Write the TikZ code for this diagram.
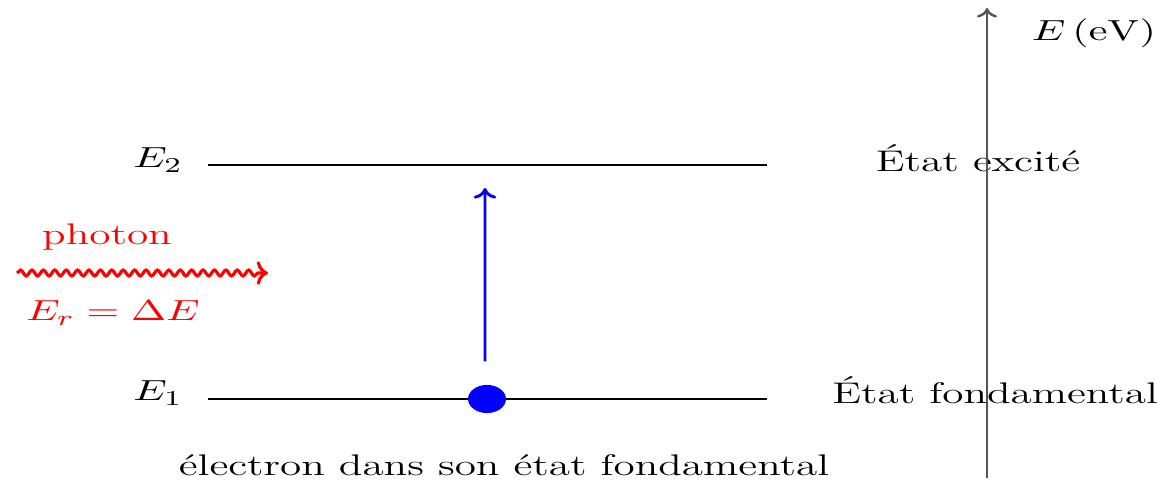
\documentclass[tikz,border=0pt]{standalone}
\usepackage{tikz}
\usetikzlibrary{arrows.meta,decorations.pathmorphing,shapes.geometric}
\definecolor{PhRed}{HTML}{FF0000}
\definecolor{PhBlue}{HTML}{0000FF}
\definecolor{PhAxis}{HTML}{555555}
\tikzset{
  level/.style={black,line width=1pt},
  absorb/.style={->,PhBlue,line width=1.1pt},
  photonwave/.style={->,PhRed,line width=1.2pt,decorate,
                     decoration={snake,amplitude=1.1pt,segment length=4.3pt,post length=2.5pt}},
  axisline/.style={->,PhAxis,line width=0.9pt},
  wide/.style={xscale=1.45,inner sep=0pt,font=\fontsize{11.25}{13}\selectfont},
  redlabel/.style={wide,text=PhRed},
  electron/.style={ellipse,fill=PhBlue,minimum width=14.3pt,minimum height=10.6pt,inner sep=0pt},
}
\begin{document}
\begin{tikzpicture}[x=0.377pt,y=-0.377pt]
  \path[use as bounding box] (0,0) rectangle (1162,481);

  % niveaux d'energie
  \coordinate (E2a) at (208,165);
  \coordinate (E2b) at (767,165);
  \coordinate (E1a) at (208,399);
  \coordinate (E1b) at (767,399);
  \draw[level] (E2a) -- (E2b);
  \draw[level] (E1a) -- (E1b);
  \node[wide] (lE2) at (158,160) {$E_2$};
  \node[wide] (lE1) at (158,393) {$E_1$};
  \node[wide] (exc) at (978,158) {\'Etat excit\'e};
  \node[wide] (fond) at (995,390) {\'Etat fondamental};

  % electron et absorption
  \node[electron] (el) at (487,399) {};
  \coordinate (up) at (485,188);
  \draw[absorb] ([xshift=-0.75pt,yshift=8.7pt]el.north) -- (up);
  \node[wide] (elec) at (504,465) {\'electron dans son \'etat fondamental};

  % photon incident
  \coordinate (ph0) at (17,273);
  \coordinate (ph1) at (268,273);
  \draw[photonwave] (ph0) -- (ph1);
  \node[redlabel] (phot) at (107,237) {photon};
  \node[redlabel] (Er) at (113,313) {$E_r=\Delta E$};

  % axe des energies
  \coordinate (ax0) at (987,478);
  \coordinate (ax1) at (987,8);
  \draw[axisline] (ax0) -- (ax1);
  \node[wide] (eax) at (1094,33) {$E\,(\mathrm{eV})$};
\end{tikzpicture}
\end{document}
